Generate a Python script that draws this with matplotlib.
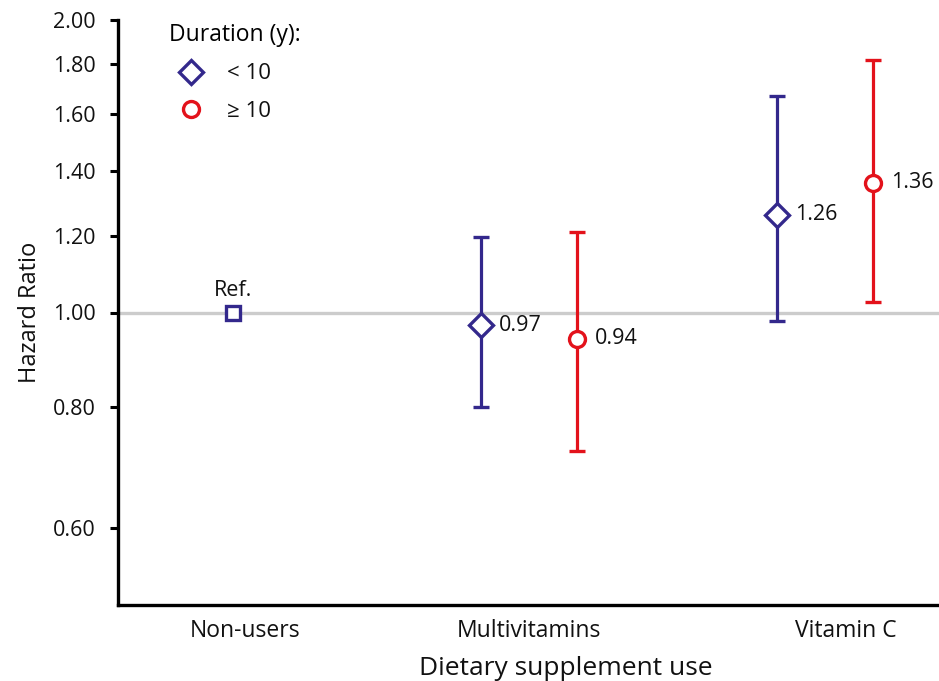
import matplotlib
matplotlib.use("Agg")
import matplotlib.pyplot as plt
from matplotlib.lines import Line2D
from matplotlib.ticker import FixedLocator, NullLocator

plt.rcParams["font.family"] = ["Open Sans", "DejaVu Sans"]

# Hazard ratios with 95% confidence intervals
groups = ["Non-users", "Multivitamins", "Vitamin C"]
duration_labels = ["< 10", "\u2265 10"]
hr_short = [0.97, 1.26]          # duration < 10 y (Multivitamins, Vitamin C)
lo_short = [0.80, 0.98]
hi_short = [1.195, 1.67]
hr_long = [0.94, 1.36]           # duration >= 10 y
lo_long = [0.72, 1.025]
hi_long = [1.21, 1.82]
ref_value = 1.00
y_ticks = [0.60, 0.80, 1.00, 1.20, 1.40, 1.60, 1.80, 2.00]

BLUE = "#33288c"
RED = "#e3121b"
TEXT = "#111111"

fig = plt.figure(figsize=(9.39, 6.81), dpi=100)
ax = fig.add_axes([118 / 939, 1 - 605 / 681, 821 / 939, 585 / 681])
ax.set_yscale("log")
ax.set_ylim(0.5, 2.0)
ax.set_xlim(-0.389, 2.385)

ax.axhline(ref_value, color="#cccccc", lw=2.4, zorder=0)

cat_x = [1.0, 2.0]
offset = 0.162

def draw_series(xs, hr, lo, hi, color, marker, ms):
    for x, v, l, h in zip(xs, hr, lo, hi):
        ax.errorbar([x], [v], yerr=[[v - l], [h - v]], fmt=marker, ms=ms,
                    mfc="white", mec=color, mew=2.4, ecolor=color,
                    elinewidth=2.3, capsize=5.8, capthick=2.3, zorder=3)
        ax.annotate(f"{v:.2f}", (x, v), xytext=(13, 0), textcoords="offset points",
                    va="center", ha="left", fontsize=15.5, color=TEXT)

draw_series([c - offset for c in cat_x], hr_short, lo_short, hi_short, BLUE, "D", 12)
draw_series([c + offset for c in cat_x], hr_long, lo_long, hi_long, RED, "o", 11.5)

# Reference group
ax.plot([0], [ref_value], marker="s", ms=10.5, mfc="white", mec=BLUE, mew=2.4,
        ls="none", zorder=3)
ax.annotate("Ref.", (0, ref_value), xytext=(0, 8), textcoords="offset points",
            ha="center", va="bottom", fontsize=15.5, color=TEXT)

ax.yaxis.set_major_locator(FixedLocator(y_ticks))
ax.yaxis.set_minor_locator(NullLocator())
ax.set_yticklabels([f"{t:.2f}" for t in y_ticks])
ax.tick_params(axis="y", which="major", length=6, width=2.2, direction="out",
               labelsize=15.5, pad=10, labelcolor=TEXT)
ax.set_xticks([0.04, 1.0, 2.07])
ax.set_xticklabels(groups)
ax.tick_params(axis="x", length=0, labelsize=16.5, pad=10, labelcolor=TEXT)

for side in ("top", "right"):
    ax.spines[side].set_visible(False)
for side in ("left", "bottom"):
    ax.spines[side].set_linewidth(2.4)

ax.set_ylabel("Hazard Ratio", fontsize=17, labelpad=8, color=TEXT)
ax.set_xlabel("Dietary supplement use", fontsize=19, color=TEXT)
ax.xaxis.set_label_coords((566 - 118) / 821, -0.108)
ax.xaxis.label.set_va("center")

handles = [
    Line2D([], [], marker="D", ms=12, mfc="white", mec=BLUE, mew=2.4, ls="none"),
    Line2D([], [], marker="o", ms=11.5, mfc="white", mec=RED, mew=2.4, ls="none"),
]
leg = ax.legend(handles, duration_labels, title="Duration (y):", loc="upper left",
                bbox_to_anchor=(0.043, 1.021), frameon=False, fontsize=16,
                title_fontsize=16.5, handletextpad=0.6, labelspacing=0.73,
                alignment="left", borderaxespad=0.3)
for t in leg.get_texts():
    t.set_color(TEXT)

fig.savefig("out.png", dpi=100)
